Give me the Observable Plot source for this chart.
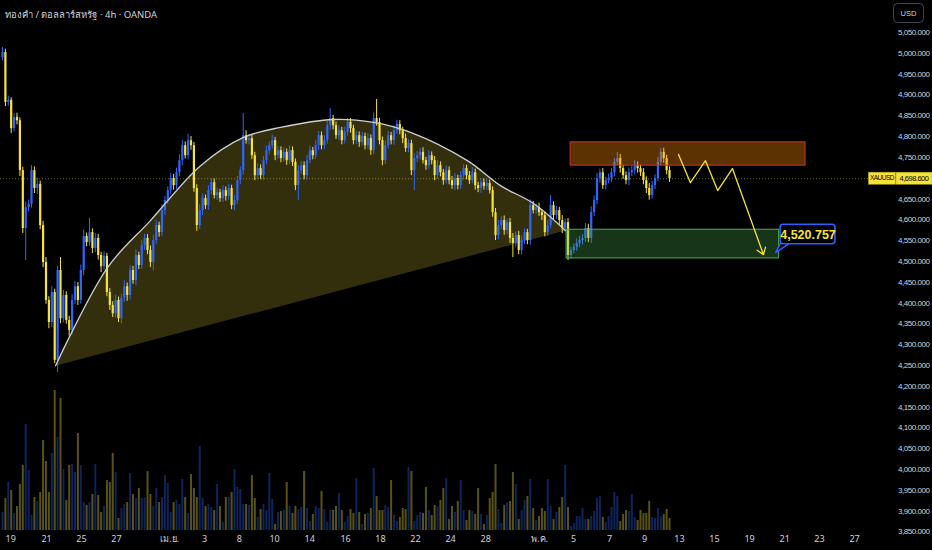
<!DOCTYPE html>
<html>
<head>
<meta charset="utf-8">
<script src="https://cdn.jsdelivr.net/npm/d3@7"></script>
<script src="https://cdn.jsdelivr.net/npm/@observablehq/plot@0.6"></script>
<style>
html,body{margin:0;padding:0;background:#000;}
#wrap{position:relative;width:932px;height:550px;overflow:hidden;background:#000;}
#title{position:absolute;left:5px;top:7px;color:#d1d4dc;font-size:9.5px;font-family:"Noto Sans","DejaVu Sans",sans-serif;white-space:nowrap;z-index:2;}
svg{display:block;}
</style>
</head>
<body>
<div id="wrap"><div id="title">ทองคำ / ดอลลาร์สหรัฐ · 4h · OANDA</div></div>
<script>
// ---------- DATA ----------
const open0 = 4990;
const closes = [
5002,4882,4887,4819,4846,4838,4718,4579,4629,4637,
4718,4675,4685,4586,4497,4406,4353,4425,4262,4478,
4362,4418,4358,4334,4406,4439,4406,4478,4560,4545,
4569,4531,4555,4514,4487,4512,4425,4394,4374,4406,
4362,4411,4439,4418,4478,4454,4514,4490,4538,4555,
4526,4497,4550,4586,4569,4622,4646,4670,4699,4682,
4713,4742,4778,4754,4790,4778,4675,4586,4622,4651,
4634,4670,4689,4658,4665,4651,4670,4656,4675,4634,
4646,4694,4718,4802,4790,4795,4754,4706,4723,4706,
4742,4766,4778,4790,4754,4766,4747,4762,4742,4766,
4738,4682,4718,4730,4706,4742,4766,4754,4778,4802,
4778,4790,4826,4843,4826,4802,4814,4790,4810,4834,
4819,4790,4802,4786,4800,4778,4795,4766,4843,4834,
4790,4742,4778,4802,4790,4814,4829,4814,4795,4771,
4783,4718,4747,4754,4762,4742,4730,4754,4742,4706,
4730,4713,4694,4718,4694,4682,4699,4682,4706,4723,
4706,4694,4713,4682,4675,4689,4680,4687,4670,4617,
4562,4586,4598,4574,4593,4555,4543,4562,4526,4550,
4569,4550,4634,4622,4629,4617,4610,4569,4586,4634,
4610,4622,4598,4579,4593,4514,4526,4533,4543,4550,
4555,4579,4555,4617,4646,4699,4713,4682,4694,4699,
4713,4738,4747,4723,4706,4694,4713,4718,4730,4723,
4713,4694,4675,4658,4682,4699,4738,4762,4747,4718,
4698.6];
const wickUp = [
12,8,10,6,9,10,7,8,14,10, 12,9,15,8,10,12,9,14,8,10,
31,12,9,10,14,12,10,13,15,8, 34,9,12,10,8,11,7,10,9,12,
8,10,14,9,12,10,14,8,12,10, 9,11,13,12,8,14,10,9,12,10,
11,14,12,9,15,10,8,9,14,11, 8,12,10,9,11,8,12,9,10,8,
12,10,9,53,12,9,10,8,11,9, 10,12,9,14,8,10,9,11,8,12,
9,8,12,10,9,13,11,8,12,10, 9,12,10,24,8,9,11,8,12,10,
9,8,11,9,10,8,12,9,14,46, 10,9,12,10,8,12,10,9,8,11,
9,8,12,10,9,11,8,12,9,10, 12,9,8,11,9,10,12,8,10,9,
8,10,12,9,8,10,9,11,8,9, 10,12,9,11,8,10,12,9,10,11,
9,8,14,10,9,11,8,9,12,24, 9,10,8,12,9,10,8,9,11,10,
9,12,10,14,11,12,9,10,8,11, 10,9,15,10,8,9,11,10,12,9,
8,10,9,12,10,9,12,9,10,8, 9];
const wickDn = [
8,10,9,12,8,10,14,12,77,10, 9,12,14,10,12,9,15,12,8,29,
12,10,9,14,11,10,12,9,13,10, 9,12,10,11,14,9,10,12,9,10,
9,12,10,14,11,9,12,10,9,11, 10,12,20,9,11,10,12,9,10,11,
9,10,12,8,10,11,9,14,10,12, 9,11,10,8,12,9,10,11,9,10,
12,9,10,11,8,10,9,12,10,9, 11,9,10,8,12,9,10,8,11,9,
10,12,36,9,10,11,8,10,9,12, 10,9,8,11,10,9,12,10,8,9,
11,10,9,12,8,10,9,11,10,9, 10,12,9,8,10,11,9,10,12,9,
10,12,48,9,10,8,11,9,10,12, 9,10,11,8,10,9,12,10,9,11,
10,9,8,11,10,12,9,10,8,11, 12,10,9,11,10,12,34,9,10,11,
9,10,11,8,10,9,12,10,9,8, 10,9,11,12,10,12,10,8,9,10,
11,9,10,12,9,10,11,9,10,8, 9,10,8,11,9,10,12,9,10,11,
9,10,12,11,9,10,8,9,11,10, 9];
const volumes = [
18,32,48,40,17,24,46,65,106,60, 15,33,29,38,90,69,38,77,140,93,
132,61,30,65,66,58,97,65,28,25, 28,36,66,35,18,24,50,48,77,58,
12,22,26,28,57,36,32,42,32,33, 59,36,24,42,28,33,55,47,18,28,
30,26,51,33,17,56,42,33,84,32, 24,26,23,20,46,24,8,33,33,38,
61,43,41,26,26,25,55,32,13,21, 26,20,57,31,6,18,19,20,48,24,
17,24,21,23,59,22,9,16,24,22, 39,21,8,20,20,24,
37,20,8,14,21,17,52,18,6,16, 17,22,62,34,20,20,25,23,50,15,
9,13,22,21,63,59,9,15,18,17, 43,20,15,25,24,30,42,52,11,24,
18,29,50,20,10,20,19,16,42,16, 6,15,32,38,66,21,7,25,28,29,
58,46,11,20,30,34,51,22,10,14, 22,19,51,24,11,18,23,33,65,23,
4,7,14,14,22,11,11,14,19,32, 34,13,8,14,23,38,34,9,16,20,
19,36,13,10,20,17,17,29,13,12, 22,14,16,21,12];
const xTickPos = [2.8,15.2,27.2,39.3,57.6,69.7,81.7,93.8,105.9,118.3,130.3,142.4,154.5,166.6,185.2,196.9,209.3,221.4,233.4,245.5,257.6,269.7,281.7,293.8];
const xTickLabels = ["19","21","25","27","เม.ย.","3","8","10","14","16","18","22","24","28","พ.ค.","5","7","9","13","15","19","21","23","27"];
const priceTicks = [3850,3900,3950,4000,4050,4100,4150,4200,4250,4300,4350,4400,4450,4500,4550,4600,4650,4750,4800,4850,4900,4950,5000,5050];
const lastPrice = 4698.6;
// drawings (bar index, price)
const arcIdx   = [18.3, 36.2, 51.0, 68.3, 83.1, 95.9, 114.1, 127.9, 140.7, 160.3, 171.7, 183.1, 194.1];
const arcPrice = [4249, 4485, 4598, 4730, 4798, 4822, 4841, 4834, 4810, 4742, 4682, 4639, 4574];
const resistZone = {x1: 195.9, x2: 276.9, y1: 4730, y2: 4786};
const supportZone = {x1: 194.5, x2: 267.8, y1: 4507, y2: 4576};
const pathIdx   = [233.1, 237.2, 242.4, 246.6, 251.7, 262.4];
const pathPrice = [4757, 4689, 4742, 4670, 4723, 4516];
const targetPrice = 4520.757;
const targetIdx = 266.6;
const calloutBox = {x1: 268.3, x2: 287.2, y1: 4541, y2: 4588};

// ---------- BUILD ----------
const W = 932, H = 550, MT = 0, MB = 20, ML = 0, MR = 62;
const xDomain = [-0.69, 299.3];
const yDomain = [3853, 5127];
const pricePerPx = (yDomain[1] - yDomain[0]) / (H - MT - MB);
const UP = "#2f66ff", DN = "#f7e43a";
const UPV = "rgba(41,98,255,0.36)", DNV = "rgba(247,226,59,0.36)";

const bars = closes.map((c, i) => {
  const o = i ? closes[i - 1] : open0;
  return {i, o, c, h: Math.max(o, c) + wickUp[i], l: Math.min(o, c) - wickDn[i], v: volumes[i], up: c >= o};
});
const arcPts = arcIdx.map((x, k) => ({x, y: arcPrice[k]}));
const pathPts = pathIdx.map((x, k) => ({x, y: pathPrice[k]}));
const nP = pathPts.length;
const tickLabel = new Map(xTickPos.map((p, k) => [p, xTickLabels[k]]));
const sansF = "'Noto Sans','DejaVu Sans',sans-serif";
const armF = "'Liberation Sans',Arial,sans-serif";

const plot = Plot.plot({
  width: W, height: H, marginTop: MT, marginBottom: MB, marginLeft: ML, marginRight: MR,
  style: {background: "#000", color: "#d1d4dc", fontFamily: sansF, fontSize: "9px"},
  x: {type: "linear", domain: xDomain},
  y: {domain: yDomain},
  marks: [
    Plot.ruleX(bars, {x: "i", y1: yDomain[0], y2: d => yDomain[0] + d.v * pricePerPx, stroke: d => d.up ? UPV : DNV, strokeWidth: 2}),
    Plot.line(arcPts, {x: "x", y: "y", curve: "catmull-rom", fill: "rgba(255,232,60,0.2)", stroke: "none"}),
    Plot.ruleY([lastPrice], {stroke: DN, strokeOpacity: 0.45, strokeDasharray: "1 2"}),
    Plot.ruleX(bars, {x: "i", y1: "l", y2: "h", stroke: d => d.up ? UP : DN, strokeWidth: 1}),
    Plot.ruleX(bars, {x: "i", y1: "o", y2: "c", stroke: d => d.up ? UP : DN, strokeWidth: 2.2}),
    Plot.line(arcPts, {x: "x", y: "y", curve: "catmull-rom", stroke: "#cfcfcf", strokeWidth: 1.3}),
    Plot.rect([resistZone], {x1: "x1", x2: "x2", y1: "y1", y2: "y2", fill: "rgba(255,140,0,0.36)", stroke: "#d32f2f", strokeWidth: 1}),
    Plot.rect([supportZone], {x1: "x1", x2: "x2", y1: "y1", y2: "y2", fill: "rgba(76,175,80,0.3)", stroke: "#4caf50", strokeWidth: 1}),
    Plot.line(pathPts.slice(0, nP - 1), {x: "x", y: "y", stroke: DN, strokeWidth: 1.3}),
    Plot.arrow([{x1: pathPts[nP - 2].x, y1: pathPts[nP - 2].y, x2: pathPts[nP - 1].x, y2: pathPts[nP - 1].y}],
      {x1: "x1", y1: "y1", x2: "x2", y2: "y2", stroke: DN, strokeWidth: 1.3, headLength: 9, headAngle: 70}),
    Plot.line([{x: calloutBox.x1 + 0.2, y: calloutBox.y1 + 6}, {x: targetIdx, y: targetPrice}, {x: calloutBox.x1 + 2.5, y: calloutBox.y1}],
      {x: "x", y: "y", stroke: "#2962ff", strokeWidth: 1.5, fill: "#000"}),
    Plot.rect([calloutBox], {x1: "x1", x2: "x2", y1: "y1", y2: "y2", fill: "#000", stroke: "#2962ff", strokeWidth: 1.6, rx: 3}),
    Plot.text([calloutBox], {x: d => (d.x1 + d.x2) / 2, y: d => (d.y1 + d.y2) / 2, text: () => d3.format(",.3f")(targetPrice),
      fill: DN, fontSize: 12.5, fontWeight: "bold", fontFamily: armF}),
    Plot.axisY(priceTicks, {anchor: "right", tickSize: 0, tickPadding: 59, textAnchor: "end", tickFormat: d3.format(",.3f"),
      fill: "#d1d4dc", fontSize: 8, fontFamily: armF}),
    Plot.axisX(xTickPos, {anchor: "bottom", tickSize: 0, tickPadding: 5, tickFormat: d => tickLabel.get(d),
      fill: "#d1d4dc", fontSize: 9, fontFamily: sansF})
  ]
});

const svg = d3.select(plot);
// tighter spacing gives the narrow look of the reference's price labels
svg.selectAll("g[aria-label='y-axis tick label'] text").style("letter-spacing", "-0.45px");

// price label boxes on the axis (positioned with the plot's y scale)
const yLast = plot.scale("y").apply(lastPrice);
const g = svg.append("g").attr("font-family", armF);
g.append("rect").attr("x", 868.5).attr("y", yLast - 6).attr("width", 27).attr("height", 12).attr("fill", "#f7e43a").attr("stroke", "#b8a820").attr("stroke-width", 0.6);
g.append("rect").attr("x", 896).attr("y", yLast - 6).attr("width", 36).attr("height", 12).attr("fill", "#f7e43a").attr("stroke", "#b8a820").attr("stroke-width", 0.6);
g.append("text").attr("x", 882).attr("y", yLast).attr("dy", "0.35em").attr("text-anchor", "middle").attr("fill", "#000")
  .attr("font-size", 6.5).style("letter-spacing", "-0.5px").text("XAUUSD");
g.append("text").attr("x", 914).attr("y", yLast).attr("dy", "0.35em").attr("text-anchor", "middle").attr("fill", "#000")
  .attr("font-size", 7.5).style("letter-spacing", "-0.5px").text(d3.format(",.3f")(lastPrice));
const u = svg.append("g").attr("font-family", armF);
u.append("rect").attr("x", 893.5).attr("y", 3.5).attr("width", 30).attr("height", 19).attr("rx", 4).attr("fill", "#000").attr("stroke", "#434651");
u.append("text").attr("x", 908.5).attr("y", 13).attr("dy", "0.35em").attr("text-anchor", "middle").attr("fill", "#d1d4dc")
  .attr("font-size", 7.5).text("USD");

document.getElementById("wrap").appendChild(plot);
</script>
</body>
</html>
